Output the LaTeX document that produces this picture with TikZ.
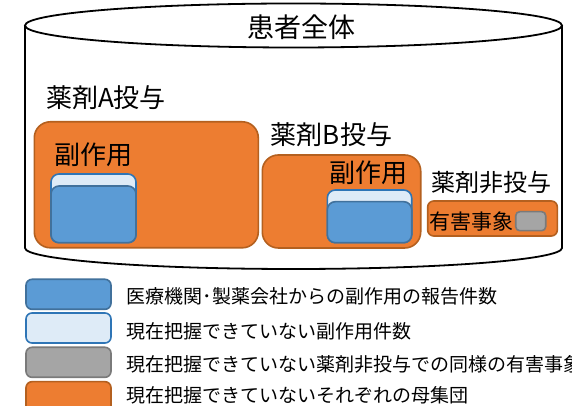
\documentclass[tikz,border=0pt]{standalone}
\usepackage{fontspec}
\newfontfamily\jp{Noto Sans CJK JP}
\definecolor{orfill}{HTML}{ED7D31}
\definecolor{ordraw}{HTML}{B4601F}
\definecolor{blfill}{HTML}{5B9BD5}
\definecolor{bldraw}{HTML}{41719C}
\definecolor{ltfill}{HTML}{DEEBF7}
\definecolor{ltdraw}{HTML}{2E75B6}
\definecolor{gyfill}{HTML}{A5A5A5}
\definecolor{gydraw}{HTML}{7A7A7A}
\begin{document}
\begin{tikzpicture}[x=1pt,y=1pt,
  every node/.style={font=\jp, inner sep=0pt, outer sep=0pt},
  obox/.style={draw=ordraw, fill=orfill, line width=1.6pt, rounded corners=16pt},
  dbox/.style={draw=bldraw, fill=blfill, line width=1.6pt, rounded corners=8pt},
  lbox/.style={draw=ltdraw, fill=ltfill, line width=1.6pt, rounded corners=8pt},
  gbox/.style={draw=gydraw, fill=gyfill, line width=1.6pt, rounded corners=4pt},
  legbox/.style={minimum width=85pt, minimum height=30pt, rounded corners=6pt},
  lbl/.style={font=\jp\fontsize{26pt}{26pt}\selectfont},
  legtxt/.style={anchor=west, font=\jp\fontsize{19pt}{19pt}\selectfont}
]
\useasboundingbox[fill=white] (0,0) rectangle (572,406);
% cylinder
\draw[line width=1.8pt] (25,380.5) -- (25,158) arc[start angle=180, end angle=360, x radius=268.5, y radius=21] -- (562,380.5);
\draw[line width=1.8pt, fill=white] (293.5,380.5) ellipse[x radius=268.5, y radius=22];
\node[font=\jp\fontsize{27pt}{27pt}\selectfont] (title) at (301.5,378.4) {患者全体};
% drug A
\node[lbl] (labA) at (106,308) {薬剤A投与};
\node[obox, minimum width=224pt, minimum height=126pt] (boxA) at (146.3,221.2) {};
\node[lbl] (seA) at (93,251) {副作用};
\node[lbox, minimum width=85pt, minimum height=68.7pt] (ltA) at (93.5,197.65) {};
\node[dbox, minimum width=85pt, minimum height=56.7pt] (dkA) at (93.5,191.65) {};
% drug B
\node[lbl] (labB) at (331.5,271) {薬剤B投与};
\node[obox, minimum width=158.4pt, minimum height=93pt] (boxB) at (341.5,204.5) {};
\node[lbl] (seB) at (368.3,233.7) {副作用};
\node[lbox, minimum width=84.4pt, minimum height=52.7pt] (ltB) at (369.5,189.65) {};
\node[dbox, minimum width=84.4pt, minimum height=41pt] (dkB) at (369.5,183.8) {};
% no drug
\node[font=\jp\fontsize{24pt}{24pt}\selectfont] (labC) at (491.5,223.3) {薬剤非投与};
\node[obox, rounded corners=6pt, minimum width=129.6pt, minimum height=35pt] (boxC) at (492.5,187.5) {};
\node[font=\jp\fontsize{21pt}{21pt}\selectfont] (ae) at (471.7,184.3) {有害事象};
\node[gbox, minimum width=30pt, minimum height=19pt] (gy) at (530.7,184.8) {};
% legend
\node[dbox, legbox] (lg1) at (68.5,111.7) {};
\node[lbox, legbox] (lg2) at (68.5,78) {};
\node[gbox, legbox] (lg3) at (68.5,43.7) {};
\node[obox, legbox] (lg4) at (68.5,9.3) {};
\node[legtxt] (t1) at (126.5,109.3) {医療機関･製薬会社からの副作用の報告件数};
\node[legtxt] (t2) at (126.5,75) {現在把握できていない副作用件数};
\node[legtxt] (t3) at (126.5,41.7) {現在把握できていない薬剤非投与での同様の有害事象};
\node[legtxt] (t4) at (126.5,11) {現在把握できていないそれぞれの母集団};
\end{tikzpicture}
\end{document}
